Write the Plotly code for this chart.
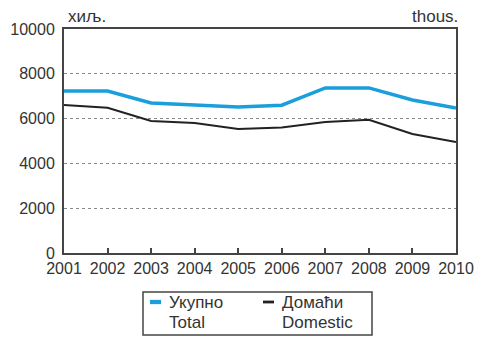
import plotly.graph_objects as go

years = [2001, 2002, 2003, 2004, 2005, 2006, 2007, 2008, 2009, 2010]
total = [7230, 7230, 6700, 6620, 6520, 6600, 7370, 7370, 6830, 6470]
domestic = [6610, 6480, 5890, 5800, 5540, 5600, 5850, 5950, 5310, 4960]
y_ticks = [0, 2000, 4000, 6000, 8000, 10000]
names_sr = ["Укупно", "Домаћи"]
names_en = ["Total", "Domestic"]
series_colors = ["#1a9fdc", "#222222"]
series_widths = [3.5, 2]

FONT = "Liberation Sans, Arial, sans-serif"
TXT = "#333333"
AX = "#444444"

W, H = 478, 338
ML, MR, MT, MB = 64, 22, 29, 85
PW, PH = W - ML - MR, H - MT - MB


def px(x):
    return (x - ML) / PW


def py(y):
    return (H - MB - y) / PH


fig = go.Figure()
for vals, sr, en, col, wd in zip([total, domestic], names_sr, names_en,
                                 series_colors, series_widths):
    fig.add_trace(go.Scatter(x=years, y=vals, mode="lines", name=f"{sr} / {en}",
                             showlegend=False, line=dict(color=col, width=wd)))

# legend box drawn by hand so it can sit tightly under the axis labels
shapes = [dict(type="rect", xref="paper", yref="paper",
               x0=px(143), x1=px(372), y0=py(292), y1=py(335),
               line=dict(color=AX, width=1.5), fillcolor="white")]
annotations = []
for i, (sr, en, col, wd) in enumerate(zip(names_sr, names_en, series_colors, series_widths)):
    x0 = 150 + i * 113
    shapes.append(dict(type="line", xref="paper", yref="paper",
                       x0=px(x0), x1=px(x0 + 11), y0=py(302), y1=py(302),
                       line=dict(color=col, width=wd + 0.8)))
    for text, yc in ((sr, 302), (en, 322)):
        annotations.append(dict(text=text, xref="paper", yref="paper",
                                x=px(x0 + 17), y=py(yc), xanchor="left", yanchor="middle",
                                align="left", showarrow=False,
                                font=dict(size=17, color=TXT)))

annotations += [
    dict(text="хиљ.", xref="paper", yref="paper", x=0.0, y=1.0,
         xanchor="left", yanchor="bottom", showarrow=False, xshift=2, yshift=1,
         font=dict(size=17, color=TXT)),
    dict(text="thous.", xref="paper", yref="paper", x=1.0, y=1.0,
         xanchor="right", yanchor="bottom", showarrow=False, xshift=4, yshift=1,
         font=dict(size=17, color=TXT)),
]

fig.update_layout(
    width=W, height=H,
    margin=dict(l=ML, r=MR, t=MT, b=MB, autoexpand=False),
    paper_bgcolor="white", plot_bgcolor="white",
    font=dict(family=FONT, size=16, color=TXT),
    showlegend=False,
    xaxis=dict(range=[2001, 2010], tickvals=years, ticks="inside", ticklen=5,
               tickwidth=2, tickcolor=AX, showline=True, linecolor=AX, linewidth=2,
               mirror=True, showgrid=False, zeroline=False,
               tickfont=dict(size=16, color=TXT)),
    yaxis=dict(range=[0, 10000], tickvals=y_ticks, ticktext=[str(v) for v in y_ticks],
               ticks="", showline=True,
               linecolor=AX, linewidth=2, mirror=True, showgrid=True,
               gridcolor="#8a8a8a", griddash="dot", gridwidth=1.2, zeroline=False,
               tickfont=dict(size=16, color=TXT), ticklabelstandoff=4),
    shapes=shapes,
    annotations=annotations,
)

fig.write_html("out.html")
